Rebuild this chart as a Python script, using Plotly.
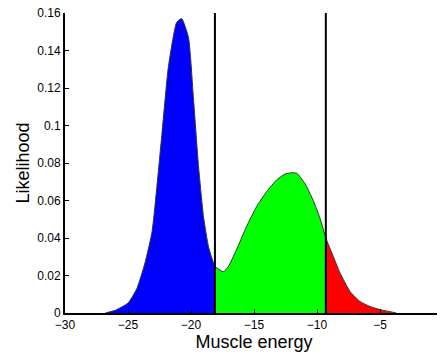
import numpy as np
import plotly.graph_objects as go

# density curve
energy = [-26.8, -26.0, -25.0, -24.3, -23.65, -23.1, -22.86, -22.3, -21.8, -21.14,
          -20.74, -20.2, -19.8, -19.4, -19.0, -18.6, -18.1, -17.44, -17.04, -16.4,
          -15.6, -14.8, -14.0, -13.2, -12.54, -12.0, -11.6, -10.95, -10.3, -9.76, -9.3,
          -8.7, -8.17, -7.38, -6.6, -5.8, -5.0, -4.2, -3.7]
likelihood = [0.0, 0.0015, 0.0053, 0.013, 0.0267, 0.043, 0.057, 0.096, 0.131, 0.155,
              0.157, 0.147, 0.114, 0.078, 0.051, 0.035, 0.025, 0.022, 0.0247, 0.0336,
              0.046, 0.0567, 0.0647, 0.071, 0.0741, 0.0748, 0.0745, 0.069, 0.060, 0.0505, 0.040,
              0.030, 0.0213, 0.0115, 0.0062, 0.0035, 0.0018, 0.0007, 0.0]

low_cut = -18.1
high_cut = -9.3

x_ticks = [-30, -25, -20, -15, -10, -5, 0]
y_ticks = [0, 0.02, 0.04, 0.06, 0.08, 0.1, 0.12, 0.14, 0.16]
y_labels = ["0", "0.02", "0.04", "0.06", "0.08", "0.1", "0.12", "0.14", "0.16"]

x = np.array(energy)
y = np.array(likelihood)

segments = [
    (x <= low_cut, "#0000ff"),
    ((x >= low_cut) & (x <= high_cut), "#00ff00"),
    (x >= high_cut, "#ff0000"),
]

fig = go.Figure()

for mask, color in segments:
    fig.add_trace(go.Scatter(
        x=x[mask], y=y[mask],
        mode="lines",
        line=dict(color=color, width=0, shape="spline", smoothing=0.5),
        fill="tozeroy",
        fillcolor=color,
        hoverinfo="skip",
        showlegend=False,
    ))

# outline of the whole curve
fig.add_trace(go.Scatter(
    x=x, y=y, mode="lines",
    line=dict(color="#333333", width=1, shape="spline", smoothing=0.5),
    showlegend=False,
))

for cut in [low_cut, high_cut]:
    fig.add_trace(go.Scatter(
        x=[cut, cut], y=[0, y_ticks[-1]],
        mode="lines",
        line=dict(color="black", width=2),
        showlegend=False,
    ))

# page body keeps its default 8px margin, so the figure is a bit smaller
fig.update_layout(
    width=437,
    height=345,
    margin=dict(l=57, r=2, t=5, b=40),
    plot_bgcolor="white",
    paper_bgcolor="white",
    font=dict(family="Liberation Sans, Arial, sans-serif", size=12, color="black"),
)

fig.update_xaxes(
    range=[-30, 0],
    tickvals=x_ticks,
    ticklabeloverflow="allow",
    automargin=False,
    showline=True, linecolor="black", linewidth=2,
    ticks="inside", ticklen=4, tickcolor="black",
    showgrid=False, zeroline=False,
    title=dict(text="Muscle energy", font=dict(size=18), standoff=1),
)
fig.update_yaxes(
    range=[0, 0.16],
    tickvals=y_ticks,
    ticktext=y_labels,
    ticklabeloverflow="allow",
    automargin=False,
    showline=True, linecolor="black", linewidth=2,
    ticks="inside", ticklen=4, tickcolor="black",
    showgrid=False, zeroline=False,
    title=dict(text="Likelihood", font=dict(size=18), standoff=3),
)

fig.write_html("out.html")
